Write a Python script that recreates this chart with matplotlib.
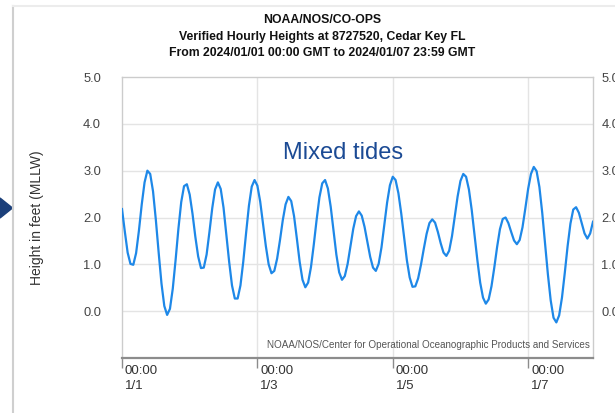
import numpy as np
import pandas as pd
import matplotlib
matplotlib.use("Agg")
import matplotlib.pyplot as plt
import matplotlib.dates as mdates
from matplotlib.transforms import ScaledTranslation
from matplotlib.patches import Polygon

plt.rcParams["font.family"] = ["Liberation Sans", "DejaVu Sans"]

# hourly water levels (ft, MLLW), one list per day
day1 = [2.18, 1.70, 1.25, 1.01, 0.99, 1.24, 1.72, 2.28, 2.75, 3.00, 2.93, 2.56,
        1.95, 1.25, 0.59, 0.11, -0.08, 0.05, 0.48, 1.09, 1.76, 2.33, 2.67, 2.71]
day2 = [2.49, 2.08, 1.59, 1.17, 0.92, 0.93, 1.21, 1.69, 2.20, 2.60, 2.75, 2.61,
        2.21, 1.64, 1.05, 0.55, 0.27, 0.27, 0.55, 1.06, 1.67, 2.25, 2.66, 2.80]
day3 = [2.68, 2.34, 1.87, 1.39, 1.00, 0.81, 0.86, 1.12, 1.51, 1.94, 2.28, 2.44,
        2.35, 2.03, 1.55, 1.05, 0.67, 0.51, 0.61, 0.94, 1.42, 1.95, 2.43, 2.73]
day4 = [2.80, 2.62, 2.23, 1.71, 1.21, 0.83, 0.67, 0.75, 1.01, 1.38, 1.76, 2.03,
        2.13, 2.04, 1.80, 1.48, 1.16, 0.93, 0.86, 1.01, 1.36, 1.84, 2.32, 2.69]
day5 = [2.87, 2.80, 2.52, 2.09, 1.58, 1.09, 0.72, 0.52, 0.53, 0.70, 0.99, 1.33,
        1.65, 1.88, 1.96, 1.89, 1.69, 1.45, 1.25, 1.18, 1.29, 1.60, 2.02, 2.45]
day6 = [2.78, 2.93, 2.87, 2.60, 2.16, 1.63, 1.09, 0.61, 0.29, 0.16, 0.25, 0.53,
        0.93, 1.37, 1.75, 1.97, 2.00, 1.88, 1.69, 1.51, 1.43, 1.52, 1.79, 2.19]
day7 = [2.61, 2.93, 3.08, 2.99, 2.65, 2.10, 1.44, 0.79, 0.23, -0.14, -0.24, -0.09,
        0.29, 0.82, 1.39, 1.87, 2.17, 2.22, 2.10, 1.88, 1.66, 1.55, 1.66, 1.91]

heights = day1 + day2 + day3 + day4 + day5 + day6 + day7
times = pd.date_range("2024-01-01 00:00", periods=len(heights), freq="h")

tick_days = ["2024-01-01", "2024-01-03", "2024-01-05", "2024-01-07"]
tick_labels = ["00:00\n1/1", "00:00\n1/3", "00:00\n1/5", "00:00\n1/7"]
y_ticks = [0, 1, 2, 3, 4, 5]

title_lines = ["NOAA/NOS/CO-OPS",
               "Verified Hourly Heights at 8727520, Cedar Key FL",
               "From 2024/01/01 00:00 GMT to 2024/01/07 23:59 GMT"]

W, H = 615, 413
fig = plt.figure(figsize=(W / 100, H / 100), dpi=100)
ax = fig.add_axes([122 / W, 1 - 358 / H, (593 - 122) / W, (358 - 77) / H])

ax.plot(times, heights, color="#1e88e8", lw=1.6, zorder=3)

ax.set_xlim(times[0], times[-1])
ax.set_ylim(-1, 5)

# grid
for yv in y_ticks[:-1]:
    ax.axhline(yv, color="#e4e4e4", lw=1, zorder=1)
for d in tick_days[1:]:
    ax.axvline(pd.Timestamp(d), color="#e4e4e4", lw=1, zorder=1)

for s in ["top", "left", "right"]:
    ax.spines[s].set_color("#cccccc")
    ax.spines[s].set_linewidth(1)
ax.spines["bottom"].set_color("#8c8c8c")
ax.spines["bottom"].set_linewidth(1.6)

# x axis
ax.set_xticks([pd.Timestamp(d) for d in tick_days])
ax.set_xticklabels(tick_labels, ha="left", va="top", linespacing=1.33)
ax.tick_params(axis="x", direction="out", length=7, width=1, color="#8c8c8c",
               labelsize=9.5, labelcolor="#333333", pad=-1.9)
off = ScaledTranslation(3 / 100, 0, fig.dpi_scale_trans)
for lab in ax.get_xticklabels():
    lab.set_transform(lab.get_transform() + off)

# y axis, both sides
ax.set_yticks(y_ticks)
ax.set_yticklabels([f"{v:.1f}" for v in y_ticks])
ax.tick_params(axis="y", length=0, labelsize=9.3, labelcolor="#444444", pad=15)
ax2 = ax.twinx()
ax2.set_ylim(-1, 5)
ax2.set_yticks(y_ticks)
ax2.set_yticklabels([f"{v:.1f}" for v in y_ticks])
ax2.tick_params(axis="y", length=0, labelsize=9.3, labelcolor="#444444", pad=6)
for s in ax2.spines.values():
    s.set_visible(False)

ax.set_ylabel("Height in feet (MLLW)", fontsize=10, color="#333333")
ax.yaxis.set_label_coords((37 - 122) / 471, 0.5)
ax.yaxis.label.set_va("center")

ax.text(0.47, 0.728, "Mixed tides", transform=ax.transAxes, fontsize=17,
        color="#1b4a94", ha="center", va="center")
ax.text(0.993, 0.027, "NOAA/NOS/Center for Operational Oceanographic Products and Services",
        transform=ax.transAxes, fontsize=7.1, color="#555555", ha="right", va="bottom")

for line, yp in zip(title_lines, [20, 37, 53]):
    fig.text(322.5 / W, 1 - yp / H, line, ha="center", va="center",
             fontsize=8.8, fontweight="bold", color="#111111")

# panel edge and arrow from the surrounding page
fig.add_artist(plt.Line2D([13 / W, 13 / W], [0, 1 - 6 / H], color="#cfcfcf", lw=1.5,
                          transform=fig.transFigure))
fig.add_artist(plt.Line2D([13 / W, 1], [1 - 6 / H, 1 - 6 / H], color="#ececec", lw=1.5,
                          transform=fig.transFigure))
fig.add_artist(Polygon([[0, 1 - 198 / H], [12.5 / W, 1 - 208 / H], [0, 1 - 218 / H]],
                       closed=True, color="#1b3f7a", transform=fig.transFigure))

fig.savefig("out.png", dpi=100)
